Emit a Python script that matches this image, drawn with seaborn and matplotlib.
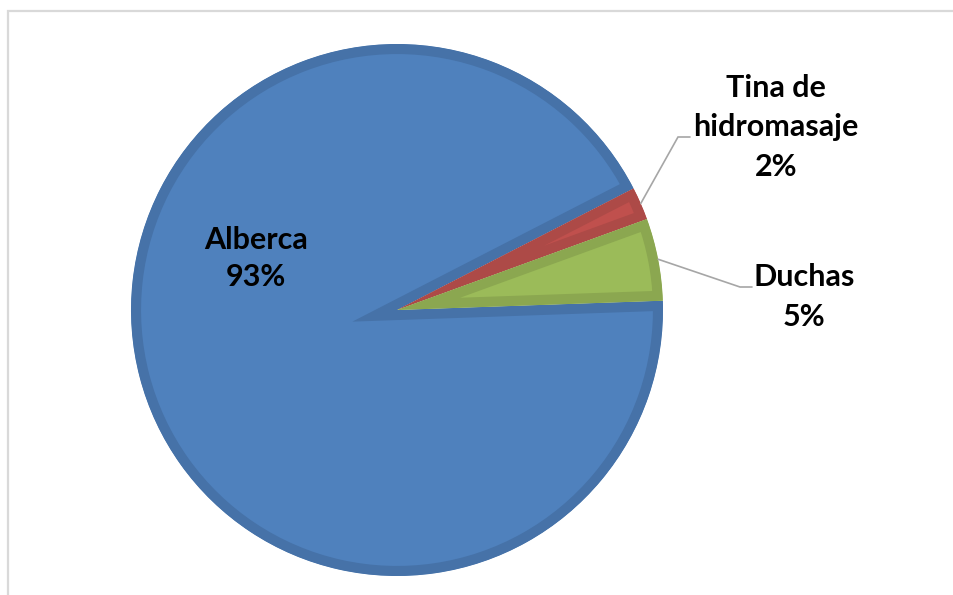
import matplotlib
matplotlib.use("Agg")
import matplotlib.pyplot as plt
import seaborn as sns
import numpy as np

# Water use by area (%)
categories = ["Alberca", "Tina de hidromasaje", "Duchas"]
label_lines = [["Alberca"], ["Tina de", "hidromasaje"], ["Duchas"]]
values = [93, 2, 5]

fill_colors = ["#4F81BD", "#C0504D", "#9BBB59"]
edge_colors = ["#4672A8", "#AD4A47", "#8BA750"]

sns.set_theme(style="white")
plt.rcParams["font.family"] = ["Lato", "DejaVu Sans"]

W, H = 954, 595
fig = plt.figure(figsize=(W / 100, H / 100), dpi=100)
ax = fig.add_axes([0, 0, 1, 1])

# work in pixel-like units, y measured upward
cx, cy, r = 397, H - 310, 266

wedges, _ = ax.pie(
    values,
    colors=fill_colors,
    startangle=2,
    counterclock=False,
    center=(cx, cy),
    radius=r,
    wedgeprops=dict(linewidth=14.5, joinstyle="miter"),
)
for w, ec in zip(wedges, edge_colors):
    w.set_edgecolor(ec)
    # keep only the inner half of each border
    w.set_clip_on(True)
    w.set_clip_path(w)

ax.set_xlim(0, W)
ax.set_ylim(0, H)
ax.set_aspect("auto")
ax.axis("off")

# chart frame
frame = plt.Rectangle((8, -10), W + 10, H - 11 + 10, fill=False,
                      edgecolor="#D9D9D9", linewidth=1.6, clip_on=False)
ax.add_patch(frame)

# slice mid-angles for leader lines
mids = [np.deg2rad((w.theta1 + w.theta2) / 2) for w in wedges]

txt_kw = dict(fontsize=22, fontweight="bold", color="black",
              ha="center", va="center")

# Alberca (inside the slice)
ax.text(256, H - 240, label_lines[0][0], **txt_kw)
ax.text(256, H - 277, f"{values[0]}%", **txt_kw)

# Tina de hidromasaje (outside, with leader)
a = mids[1]
p0 = (cx + r * np.cos(a), cy + r * np.sin(a))
ax.plot([p0[0], 678, 690], [p0[1], H - 137, H - 137],
        color="#A6A6A6", linewidth=1.2, solid_joinstyle="miter")
ax.text(776, H - 88, label_lines[1][0], **txt_kw)
ax.text(776, H - 127, label_lines[1][1], **txt_kw)
ax.text(776, H - 167, f"{values[1]}%", **txt_kw)

# Duchas (outside, with leader)
a = mids[2]
p0 = (cx + r * np.cos(a), cy + r * np.sin(a))
ax.plot([p0[0], 740, 752], [p0[1], H - 287, H - 287],
        color="#A6A6A6", linewidth=1.2, solid_joinstyle="miter")
ax.text(804, H - 277, label_lines[2][0], **txt_kw)
ax.text(804, H - 317, f"{values[2]}%", **txt_kw)

fig.savefig("out.png", dpi=100, facecolor="white")
